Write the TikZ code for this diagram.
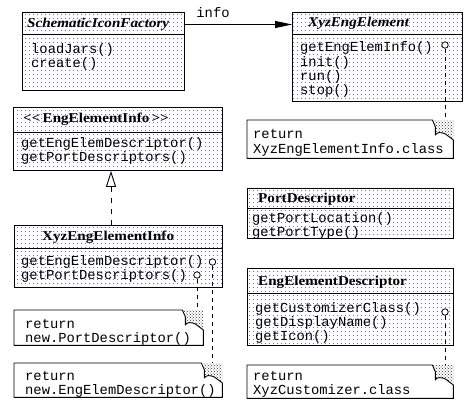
\documentclass[tikz,border=0pt]{standalone}
\usepackage{fontspec}
\setmainfont{Liberation Serif}
\newfontfamily\monof{Liberation Mono}
\newfontfamily\headf[FakeStretch=1.12]{Liberation Serif}
\usetikzlibrary{arrows.meta,patterns,patterns.meta,calc}
\definecolor{dotblue}{RGB}{0,0,190}
\tikzdeclarepattern{name=umldots, type=uncolored,
  bottom left={(0pt,0pt)}, top right={(4pt,4pt)}, tile size={(4pt,4pt)},
  code={\pgfpathcircle{\pgfqpoint{2pt}{2pt}}{0.55pt}\pgfusepath{fill}}}
\tikzset{
 umlbox/.style={draw, line width=0.9pt, pattern=umldots, pattern color=dotblue, rectangle, inner sep=0pt, anchor=north west},
 notebox/.style={rectangle, inner sep=0pt, anchor=north west},
 headtxt/.style={anchor=base west, inner sep=0pt, font=\headf\fontsize{13.5}{14}\selectfont\bfseries},
 headit/.style={anchor=base west, inner sep=0pt, font=\headf\fontsize{13.5}{14}\selectfont\bfseries\itshape},
 bodytxt/.style={anchor=base west, inner sep=0pt, font=\monof\fontsize{13.8}{14}\selectfont},
 lolli/.style={circle, draw, line width=0.8pt, fill=white, inner sep=0pt, minimum size=6.5pt},
 dashline/.style={line width=0.9pt, dash pattern=on 4pt off 4pt},
 sepline/.style={line width=0.9pt},
}
\newcommand\bodylines[5]{%
 \foreach \mytext [count=\i] in {#5} {\node[bodytxt] (#1-\i) at (#2, #3+#4*\i-#4) {\mytext};}}
\newcommand\drawnote[1]{%
 \fill[pattern=crosshatch dots, pattern color=black!80]
   ($(#1.north east)+(-21,0)$) -- (#1.north east) -- ($(#1.north east)+(0,20)$)
   -- ($(#1.north east)+(-8,14)$) .. controls ($(#1.north east)+(-12,12)$) and ($(#1.north east)+(-17,12)$) .. ($(#1.north east)+(-18,15)$)
   -- ($(#1.north east)+(-18,7)$) -- cycle;
 \draw[line width=0.9pt, line join=round]
   ($(#1.north east)+(-21,0)$) -- (#1.north west) -- (#1.south west) -- (#1.south east)
   -- ($(#1.north east)+(0,20)$) -- ($(#1.north east)+(-8,14)$)
   .. controls ($(#1.north east)+(-12,12)$) and ($(#1.north east)+(-17,12)$) .. ($(#1.north east)+(-18,15)$)
   -- ($(#1.north east)+(-18,7)$) -- cycle;}
\begin{document}
\begin{tikzpicture}[x=1pt,y=-1pt]
\useasboundingbox[fill=white] (0,0) rectangle (470,412);
% ---- SchematicIconFactory
\node[umlbox, minimum width=162pt, minimum height=78pt] (sif) at (22,12) {};
\draw[sepline] (sif.west |- 0,34) -- (sif.east |- 0,34);
\node[headit] (sif-h) at (27,28) {SchematicIconFactory};
\bodylines{sif}{31}{53}{14}{loadJars(),create()}
% ---- XyzEngElement
\node[umlbox, minimum width=170pt, minimum height=89pt] (xee) at (292,12) {};
\draw[sepline] (xee.west |- 0,34) -- (xee.east |- 0,34);
\node[headit] (xee-h) at (308,27) {XyzEngElement};
\bodylines{xee}{300}{52}{14}{getEngElemInfo(),init(),run(),stop()}
% ---- EngElementInfo
\node[umlbox, minimum width=209pt, minimum height=63pt] (eei) at (13,107) {};
\draw[sepline] (eei.west |- 0,132) -- (eei.east |- 0,132);
\node[headtxt] (eei-h) at (23,122) {{<}{<}\,EngElementInfo\,{>}{>}};
\bodylines{eei}{21}{147}{14}{getEngElemDescriptor(),getPortDescriptors()}
% ---- XyzEngElementInfo
\node[umlbox, minimum width=208pt, minimum height=62pt] (xei) at (14,225) {};
\draw[sepline] (xei.west |- 0,248) -- (xei.east |- 0,248);
\node[headtxt] (xei-h) at (42,240) {XyzEngElementInfo};
\bodylines{xei}{21}{265}{14}{getEngElemDescriptor(),getPortDescriptors()}
% ---- PortDescriptor
\node[umlbox, minimum width=206pt, minimum height=50pt] (pd) at (247,188) {};
\draw[sepline] (pd.west |- 0,208) -- (pd.east |- 0,208);
\node[headtxt] (pd-h) at (258,202) {PortDescriptor};
\bodylines{pd}{252}{222}{14}{getPortLocation(),getPortType()}
% ---- EngElementDescriptor
\node[umlbox, minimum width=206pt, minimum height=77pt] (eed) at (247,268) {};
\draw[sepline] (eed.west |- 0,293) -- (eed.east |- 0,293);
\node[headtxt] (eed-h) at (258,285) {EngElementDescriptor};
\bodylines{eed}{255}{312}{14}{getCustomizerClass(),getDisplayName(),getIcon()}
% ---- notes
\node[notebox, minimum width=206pt, minimum height=38pt] (nr1) at (247,120) {};
\drawnote{nr1}
\bodylines{nr1}{253}{138}{15}{return,XyzEngElementInfo.class}
\node[notebox, minimum width=206pt, minimum height=33pt] (nr2) at (247,365) {};
\drawnote{nr2}
\bodylines{nr2}{253}{380}{14}{return,XyzCustomizer.class}
\node[notebox, minimum width=189pt, minimum height=35pt] (nl1) at (14,310) {};
\drawnote{nl1}
\bodylines{nl1}{25}{328}{14}{return,new.PortDescriptor()}
\node[notebox, minimum width=208pt, minimum height=34pt] (nl2) at (14,363) {};
\drawnote{nl2}
\bodylines{nl2}{25}{380}{14}{return,new.EngElemDescriptor()}
% ---- lollipops and dashed links
\node[lolli] (lp1) at (445,45) {};
\draw[dashline] (lp1.south) -- (lp1 |- nr1.north);
\node[lolli] (lp2) at (445,312) {};
\draw[dashline] (lp2.south) -- (lp2 |- nr2.north);
\node[lolli] (lp3) at (212.5,262) {};
\draw[dashline] (lp3.south) -- (lp3 |- nl2.north);
\node[lolli] (lp4) at (197,275) {};
\draw[dashline] (lp4.south) -- (lp4 |- nl1.north);
% ---- association
\draw[line width=0.9pt, -{Triangle[length=17pt,width=7pt]}] (sif.east |- 0,24.5) -- (xee.west |- 0,24.5);
\node[bodytxt, anchor=base] (info) at (213,18) {info};
% ---- realization
\draw[line width=0.9pt, dash pattern=on 5pt off 6pt, -{Triangle[open,length=16pt,width=10pt]}] (xei.north -| 111,0) -- (eei.south -| 111,0);
\end{tikzpicture}
\end{document}
